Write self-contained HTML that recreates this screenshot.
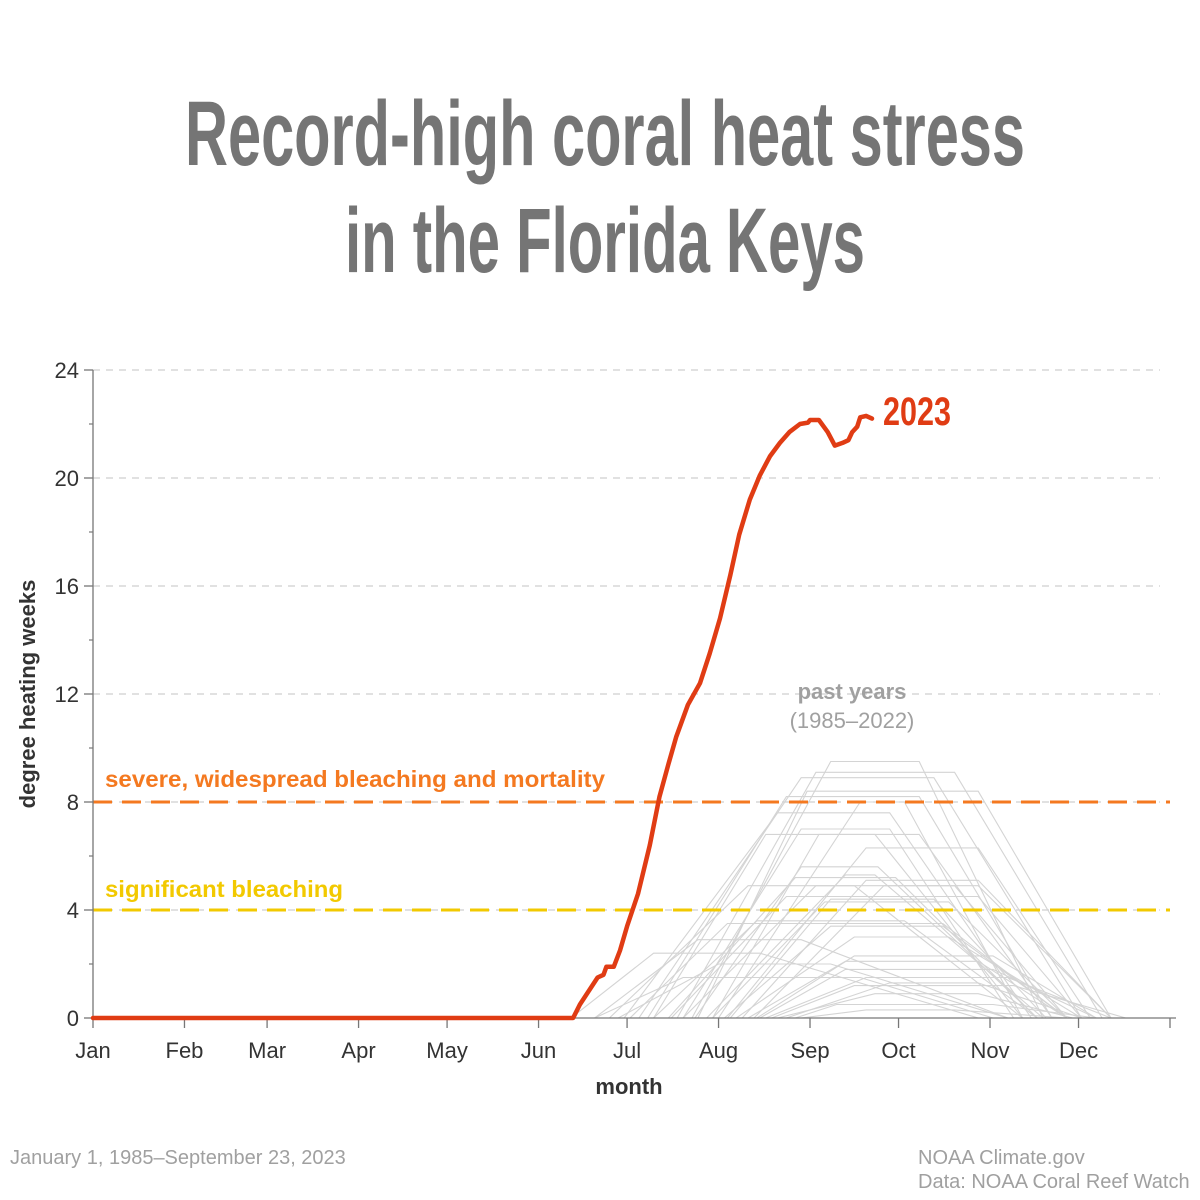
<!DOCTYPE html>
<html><head><meta charset="utf-8"><style>
html,body{margin:0;padding:0;background:#fff;}
svg{display:block;font-family:"Liberation Sans",sans-serif;}
</style></head><body>
<svg id="chart" width="1200" height="1200" viewBox="0 0 1200 1200" xmlns="http://www.w3.org/2000/svg">
<text x="605" y="165" text-anchor="middle" font-size="92" font-weight="bold" fill="#757575" textLength="840" lengthAdjust="spacingAndGlyphs">Record-high coral heat stress</text>
<text x="605" y="272" text-anchor="middle" font-size="92" font-weight="bold" fill="#757575" textLength="520" lengthAdjust="spacingAndGlyphs">in the Florida Keys</text>
<g id="grid"></g>
<g id="past"></g>
<g id="thresh"></g>
<g id="axes"></g>
<g id="cur"></g>
<text x="852" y="699" text-anchor="middle" font-size="22" font-weight="bold" fill="#a0a0a0">past years</text>
<text x="852" y="728" text-anchor="middle" font-size="22" fill="#a0a0a0">(1985–2022)</text>
<text x="105" y="787" font-size="23" font-weight="bold" fill="#f47920" textLength="500" lengthAdjust="spacingAndGlyphs">severe, widespread bleaching and mortality</text>
<text x="105" y="897" font-size="23" font-weight="bold" fill="#f2c900" textLength="238" lengthAdjust="spacingAndGlyphs">significant bleaching</text>
<text x="883" y="425" font-size="40" font-weight="bold" fill="#e03c14" textLength="68" lengthAdjust="spacingAndGlyphs">2023</text>
<text transform="translate(35,694) rotate(-90)" text-anchor="middle" font-size="22" font-weight="bold" fill="#333">degree heating weeks</text>
<text x="629" y="1094" text-anchor="middle" font-size="22" font-weight="bold" fill="#333">month</text>
<text x="10" y="1164" font-size="20" fill="#a0a0a0">January 1, 1985–September 23, 2023</text>
<text x="918" y="1164" font-size="20" fill="#a0a0a0">NOAA Climate.gov</text>
<text x="918" y="1188" font-size="20" fill="#a0a0a0">Data: NOAA Coral Reef Watch</text>
</svg>
<script>
const monthLabels=["Jan","Feb","Mar","Apr","May","Jun","Jul","Aug","Sep","Oct","Nov","Dec"];
const monthStartDays=[0,31,59,90,120,151,181,212,243,273,304,334,365];
const yTicks=[0,4,8,12,16,20,24];
const thresholds=[8,4];
const days2023=[0,162.7,165,171,173,174,176.5,178.6,181,184.7,188.7,192,195,197.6,201.6,205.7,209,212.5,216,219,222.6,226,229.4,232.8,236,239.6,242.3,243,246,249,251.4,254,256,257.3,259,260,262,264];
const dhw2023=[0,0,0.5,1.5,1.6,1.9,1.9,2.5,3.4,4.6,6.4,8.2,9.4,10.4,11.6,12.4,13.5,14.8,16.4,17.9,19.2,20.1,20.8,21.3,21.7,22.0,22.05,22.15,22.15,21.7,21.2,21.3,21.4,21.7,21.9,22.25,22.3,22.2];
// past years: [start day, rise end day, peak DHW, fall start day, end day]
const pastStart=[162,170,175,180,185,188,190,195,198,200,203,205,208,210,212,215,216,218,220,222,224,226,228,230,232,235,238,240,170,182,196,204,214,225,190,200,178,210];
const pastRiseEnd=[190,205,222,232,240,235,228,238,245,240,250,242,255,248,260,262,250,258,262,255,268,255,262,258,265,270,252,262,200,215,235,240,250,258,225,245,212,246];
const pastPeak=[2.4,2.9,4.9,7.6,8.9,8.2,6.8,5.2,9.1,7.0,9.5,8.4,5.3,4.3,8.0,6.3,4.4,3.0,5.1,2.1,4.9,1.8,1.5,1.2,0.9,1.3,0.5,0.3,1.5,3.5,4.5,5.6,3.4,2.3,3.6,4.9,2.0,6.8];
const pastFallStart=[226,240,258,270,285,280,265,272,292,270,280,300,265,290,275,300,285,290,300,300,292,305,310,312,300,300,305,292,260,288,300,266,288,305,275,300,250,280];
const pastEnd=[300,310,315,318,335,325,315,320,342,312,322,345,322,330,315,338,323,335,345,330,330,340,345,350,332,335,340,330,305,330,335,320,330,340,320,345,310,325];
const NS="http://www.w3.org/2000/svg";
const X0=93,X1=1170,Y0=1018,Y1=370;
function xs(d){return X0+(X1-X0)*d/365;}
function ys(v){return Y0-(Y0-Y1)*v/24;}
function mk(tag,attrs,parent){const e=document.createElementNS(NS,tag);for(const k in attrs)e.setAttribute(k,attrs[k]);parent.appendChild(e);return e;}
const grid=document.getElementById('grid'),axes=document.getElementById('axes'),past=document.getElementById('past'),thr=document.getElementById('thresh'),cur=document.getElementById('cur');
yTicks.forEach(v=>{
  if(v>0){const g=mk('line',{x1:X0,x2:1160,y1:ys(v),y2:ys(v),stroke:'#cfcfcf','stroke-width':1.2,'stroke-dasharray':'7,6'},grid);
  
  }
  const t=mk('line',{x1:84,x2:X0,y1:ys(v),y2:ys(v),stroke:'#777','stroke-width':1.3},axes);
  
  
  const l=mk('text',{x:79,y:ys(v)+8,'text-anchor':'end','font-size':22,fill:'#333'},axes);
  
  
  l.textContent=v;
  if(v<24){const m=mk('line',{x1:89,x2:X0,y1:ys(v+2),y2:ys(v+2),stroke:'#777','stroke-width':1.2},axes);
  
  }
});
mk('line',{x1:X0,x2:X0,y1:Y1,y2:Y0,stroke:'#777','stroke-width':1.3},axes);
mk('line',{x1:X0,x2:1176,y1:Y0,y2:Y0,stroke:'#777','stroke-width':1.3},axes);
monthStartDays.forEach((d,i)=>{
  const t=mk('line',{x1:xs(d),x2:xs(d),y1:Y0,y2:Y0+10,stroke:'#777','stroke-width':1.3},axes);
  
  
  if(i<12){const l=mk('text',{x:xs(d),y:1058,'text-anchor':'middle','font-size':22,fill:'#333'},axes);
  
  
  l.textContent=monthLabels[i];}
});
pastStart.forEach((s,i)=>{
  const pts=[[s,0],[pastRiseEnd[i],pastPeak[i]],[pastFallStart[i],pastPeak[i]],[pastEnd[i],0]];
  const p=mk('polyline',{points:pts.map(q=>xs(q[0]).toFixed(1)+','+ys(q[1]).toFixed(1)).join(' '),fill:'none',stroke:'#d4d4d4','stroke-width':1.1},past);
  
  
});
const tcol=['#f47920','#f2c900'];
thresholds.forEach((v,i)=>{
  const l=mk('line',{x1:X0,x2:1170,y1:ys(v),y2:ys(v),stroke:tcol[i],'stroke-width':3,'stroke-dasharray':'19,10'},thr);
  
  
});
const p23=mk('polyline',{points:days2023.map((d,i)=>xs(d).toFixed(1)+','+ys(dhw2023[i]).toFixed(1)).join(' '),fill:'none',stroke:'#e03c14','stroke-width':4.5,'stroke-linejoin':'round','stroke-linecap':'round'},cur);


</script>
</body></html>
